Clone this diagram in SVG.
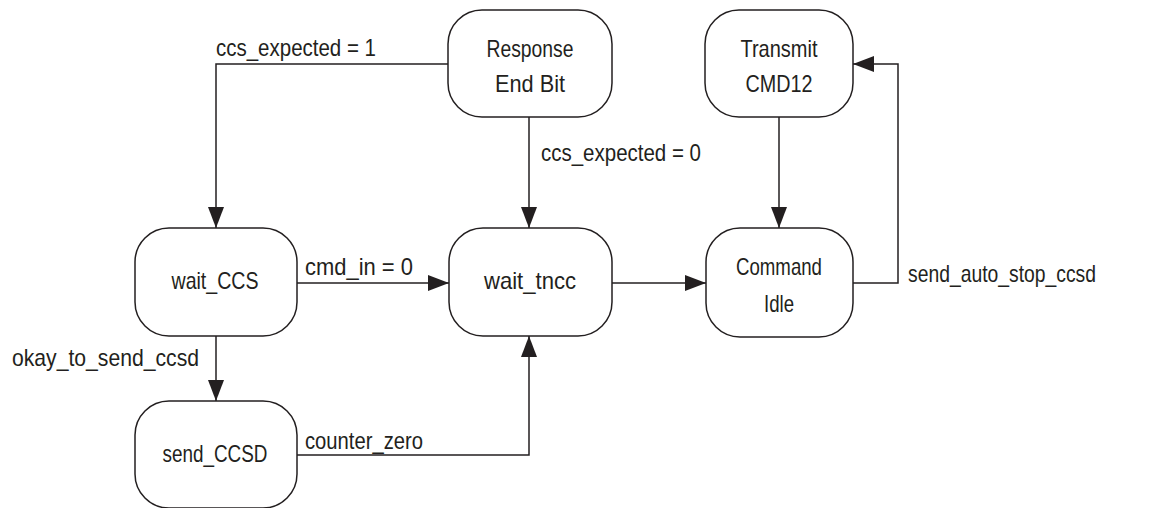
<svg xmlns="http://www.w3.org/2000/svg" width="1155" height="508" viewBox="0 0 1155 508">
<style>
.box{fill:#fff;stroke:#231f20;stroke-width:1.5}
.lbl{font-family:"Liberation Sans",Arial,sans-serif;font-size:24px;fill:#231f20}
.c{text-anchor:middle}
.edge{fill:none;stroke:#231f20;stroke-width:1.5}
</style>
<defs>
<marker id="arr" viewBox="0 0 21 16" refX="21" refY="8" markerWidth="21" markerHeight="16" markerUnits="userSpaceOnUse" orient="auto">
<path d="M0,0 L21,8 L0,16 Z" fill="#231f20"/>
</marker>
</defs>
<rect width="1155" height="508" fill="#fff"/>
<g id="connectors">
<path class="edge" d="M448,64 H216 V228" marker-end="url(#arr)"/>
<text class="lbl" x="216" y="56" textLength="160" lengthAdjust="spacingAndGlyphs">ccs_expected = 1</text>
<path class="edge" d="M529,117 V228" marker-end="url(#arr)"/>
<text class="lbl" x="541" y="161" textLength="160" lengthAdjust="spacingAndGlyphs">ccs_expected = 0</text>
<path class="edge" d="M297,283 H449" marker-end="url(#arr)"/>
<text class="lbl" x="305" y="275" textLength="108" lengthAdjust="spacingAndGlyphs">cmd_in = 0</text>
<path class="edge" d="M612,283 H706" marker-end="url(#arr)"/>
<path class="edge" d="M779,117 V228" marker-end="url(#arr)"/>
<path class="edge" d="M853,283 H898 V64 H853" marker-end="url(#arr)"/>
<text class="lbl" x="908" y="282" textLength="188" lengthAdjust="spacingAndGlyphs">send_auto_stop_ccsd</text>
<path class="edge" d="M216,336 V401" marker-end="url(#arr)"/>
<text class="lbl" x="12" y="366" textLength="187" lengthAdjust="spacingAndGlyphs">okay_to_send_ccsd</text>
<path class="edge" d="M297,455 H529 V336" marker-end="url(#arr)"/>
<text class="lbl" x="305" y="449" textLength="118" lengthAdjust="spacingAndGlyphs">counter_zero</text>
</g>
<g id="response_end_bit">
<rect class="box" x="448" y="10" width="164" height="107" rx="34"/>
<text class="lbl c" x="530" y="57" textLength="87" lengthAdjust="spacingAndGlyphs">Response</text>
<text class="lbl c" x="530" y="92" textLength="70" lengthAdjust="spacingAndGlyphs">End Bit</text>
</g>
<g id="transmit_cmd12">
<rect class="box" x="705" y="10" width="148" height="107" rx="34"/>
<text class="lbl c" x="779" y="57" textLength="77" lengthAdjust="spacingAndGlyphs">Transmit</text>
<text class="lbl c" x="779" y="92" textLength="67" lengthAdjust="spacingAndGlyphs">CMD12</text>
</g>
<g id="wait_ccs">
<rect class="box" x="135" y="228" width="162" height="108" rx="34"/>
<text class="lbl c" x="215" y="289" textLength="87" lengthAdjust="spacingAndGlyphs">wait_CCS</text>
</g>
<g id="wait_tncc">
<rect class="box" x="449" y="228" width="163" height="108" rx="34"/>
<text class="lbl c" x="530" y="289" textLength="92" lengthAdjust="spacingAndGlyphs">wait_tncc</text>
</g>
<g id="command_idle">
<rect class="box" x="706" y="228" width="147" height="109" rx="34"/>
<text class="lbl c" x="779" y="275" textLength="86" lengthAdjust="spacingAndGlyphs">Command</text>
<text class="lbl c" x="779" y="312" textLength="30" lengthAdjust="spacingAndGlyphs">Idle</text>
</g>
<g id="send_ccsd">
<rect class="box" x="135" y="401" width="162" height="107" rx="34"/>
<text class="lbl c" x="215" y="462" textLength="105" lengthAdjust="spacingAndGlyphs">send_CCSD</text>
</g>
</svg>
